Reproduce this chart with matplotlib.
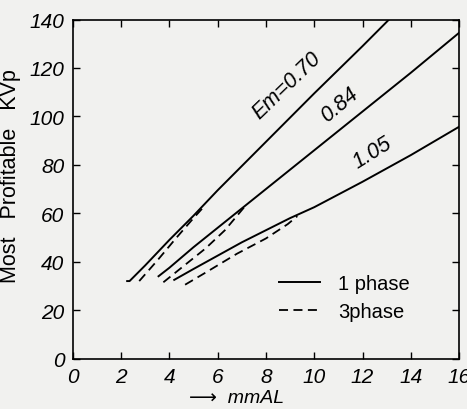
import numpy as np
import matplotlib
matplotlib.use("Agg")
import matplotlib.pyplot as plt

# ---------------------------------------------------------------------------
# Data (mm Al vs most profitable kVp)
# ---------------------------------------------------------------------------
em_070_1ph_x = [2.25, 2.35, 3.0, 4.0, 5.0, 6.0, 7.0, 8.0, 10.0, 12.0, 13.1]
em_070_1ph_y = [32.0, 32.0, 38.5, 49.0, 59.0, 69.5, 79.5, 89.5, 109.5, 129.0, 140.0]
em_070_3ph_x = [2.75, 3.5, 4.3, 5.0, 5.5]
em_070_3ph_y = [32.0, 40.5, 50.0, 58.0, 63.5]

em_084_1ph_x = [3.55, 4.0, 5.0, 6.0, 7.0, 8.0, 9.0, 10.0, 12.0, 14.0, 16.0]
em_084_1ph_y = [34.0, 37.5, 46.0, 54.0, 62.0, 70.0, 78.0, 86.0, 102.0, 118.0, 134.5]
em_084_3ph_x = [3.75, 4.5, 5.5, 6.3, 7.1]
em_084_3ph_y = [31.5, 37.5, 45.5, 53.0, 62.5]

em_105_1ph_x = [4.2, 5.0, 6.0, 7.0, 8.0, 9.0, 10.0, 12.0, 14.0, 16.0]
em_105_1ph_y = [32.5, 37.0, 42.5, 48.0, 53.0, 58.0, 62.5, 73.0, 84.0, 95.7]
em_105_3ph_x = [4.65, 5.5, 6.8, 8.0, 8.9, 9.3]
em_105_3ph_y = [30.5, 35.5, 43.3, 49.6, 55.5, 58.8]

x_ticks = [0, 2, 4, 6, 8, 10, 12, 14, 16]
y_ticks = [0, 20, 40, 60, 80, 100, 120, 140]

BG = "#f1f1ef"
FONT = ["Liberation Sans", "DejaVu Sans"]

fig = plt.figure(figsize=(4.67, 4.10), dpi=100, facecolor=BG)
ax = fig.add_axes([0.156, 0.123, 0.827, 0.827], facecolor=BG)

solid = dict(color="black", linewidth=1.4, linestyle="-")
dashed = dict(color="black", linewidth=1.3, linestyle=(0, (5, 3)))

ax.plot(em_070_1ph_x, em_070_1ph_y, label="1 phase", **solid)
ax.plot(em_070_3ph_x, em_070_3ph_y, label="3phase", **dashed)
ax.plot(em_084_1ph_x, em_084_1ph_y, **solid)
ax.plot(em_084_3ph_x, em_084_3ph_y, **dashed)
ax.plot(em_105_1ph_x, em_105_1ph_y, **solid)
ax.plot(em_105_3ph_x, em_105_3ph_y, **dashed)

# curve labels
lab = dict(family=FONT, style="italic", fontsize=15.5, ha="center", va="center")
ax.text(8.85, 113, "Em=0.70", rotation=44, **lab)
ax.text(11.05, 105, "0.84", rotation=40, **lab)
ax.text(12.4, 85, "1.05", rotation=32, **lab)

ax.set_xlim(0, 16)
ax.set_ylim(0, 140)
ax.set_xticks(x_ticks)
ax.set_yticks(y_ticks)
ax.tick_params(direction="in", length=5, width=1.0, top=True, right=True,
               labelsize=15, pad=6)
for t in ax.get_xticklabels() + ax.get_yticklabels():
    t.set_family(FONT)
    t.set_style("italic")
for s in ax.spines.values():
    s.set_linewidth(1.2)

ax.set_ylabel("Most   Profitable   KVp", fontsize=15.5, family=FONT)
ax.yaxis.set_label_coords(-0.135, 0.54)
ax.set_xlabel("\u27f6  mmAL", fontsize=14, family=FONT, style="italic")
ax.xaxis.set_label_coords(0.425, -0.09)

ax.legend(loc="upper left", bbox_to_anchor=(0.535, 0.25), frameon=False,
          borderpad=0, borderaxespad=0, handlelength=2.0, handletextpad=0.9,
          labelspacing=0.45, prop={"family": FONT, "size": 14.5})

fig.savefig("out.png", dpi=100, facecolor=BG)
